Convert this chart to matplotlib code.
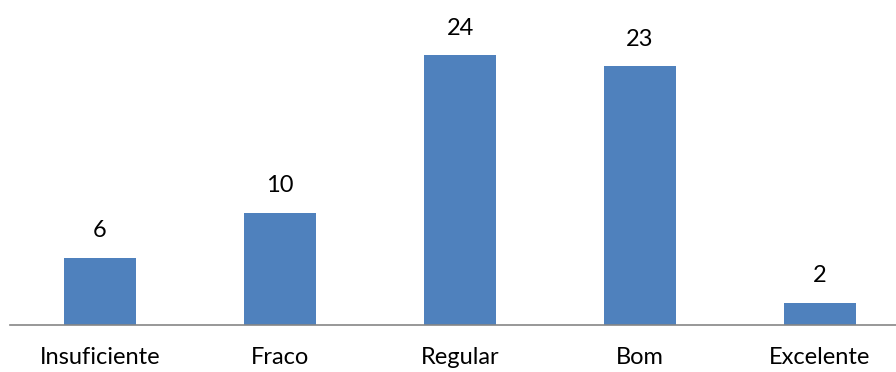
import matplotlib
matplotlib.use('Agg')
import matplotlib.pyplot as plt

categories = ['Insuficiente', 'Fraco', 'Regular', 'Bom', 'Excelente']
values = [6, 10, 24, 23, 2]

plt.rcParams['font.family'] = ['Lato', 'DejaVu Sans']

fig = plt.figure(figsize=(8.96, 3.72), dpi=100)
ax = fig.add_axes([10 / 896, 1 - 325 / 372, 900 / 896, 315 / 372])

bars = ax.bar(range(len(categories)), values, width=0.4, color='#4F81BD')
for b, v in zip(bars, values):
    ax.text(b.get_x() + b.get_width() / 2, v + 1.45, str(v),
            ha='center', va='bottom', fontsize=17)

ax.set_xlim(-0.5, 4.5)
ax.set_ylim(0, 28)
ax.set_xticks(range(len(categories)))
ax.set_xticklabels(categories, fontsize=17)
ax.tick_params(axis='x', length=0, pad=16)
ax.set_yticks([])
for s in ['top', 'right', 'left']:
    ax.spines[s].set_visible(False)
ax.spines['bottom'].set_color('#868686')
ax.spines['bottom'].set_linewidth(1.2)

fig.savefig('out.png', dpi=100)
